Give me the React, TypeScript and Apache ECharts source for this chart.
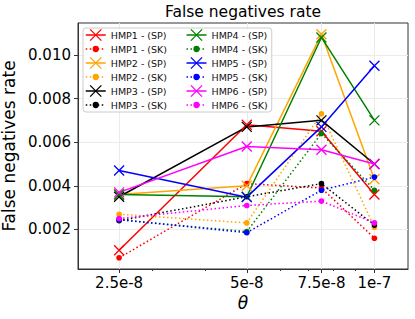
import React, { useEffect, useRef } from 'react';
import * as echarts from 'echarts';

// ---- data ----
const thetas = [2.5e-8, 5e-8, 7.5e-8, 1e-7];
const xTickLabels = ['2.5e-8', '5e-8', '7.5e-8', '1e-7'];
const xMinorTicks = [3e-8, 4e-8, 6e-8, 7e-8, 8e-8, 9e-8];
const xLimits = [2e-8, 1.2e-7];
const yTicks = [0.002, 0.004, 0.006, 0.008, 0.01];

const hmp1SP = [0.00105, 0.0068, 0.0065, 0.0036];
const hmp1SK = [0.0007, 0.0041, 0.0039, 0.0016];
const hmp2SP = [0.0036, 0.004, 0.01095, 0.0043];
const hmp2SK = [0.0027, 0.0023, 0.0073, 0.0021];
const hmp3SP = [0.0035, 0.0067, 0.007, 0.005];
const hmp3SK = [0.0024, 0.0035, 0.0041, 0.0022];
const hmp4SP = [0.0036, 0.0035, 0.0108, 0.007];
const hmp4SK = [0.00245, 0.0019, 0.0064, 0.0038];
const hmp5SP = [0.0047, 0.00348, 0.0067, 0.0095];
const hmp5SK = [0.00245, 0.00185, 0.0038, 0.0044];
const hmp6SP = [0.0037, 0.0058, 0.00565, 0.005];
const hmp6SK = [0.0025, 0.0031, 0.0033, 0.0023];

const seriesNames = [
  'HMP1 - (SP)', 'HMP1 - (SK)', 'HMP2 - (SP)', 'HMP2 - (SK)', 'HMP3 - (SP)', 'HMP3 - (SK)',
  'HMP4 - (SP)', 'HMP4 - (SK)', 'HMP5 - (SP)', 'HMP5 - (SK)', 'HMP6 - (SP)', 'HMP6 - (SK)',
];
const seriesValues = [hmp1SP, hmp1SK, hmp2SP, hmp2SK, hmp3SP, hmp3SK, hmp4SP, hmp4SK, hmp5SP, hmp5SK, hmp6SP, hmp6SK];
const seriesColors = ['#ff0000', '#ffa500', '#000000', '#008000', '#0000ff', '#ff00ff'];

const X_SYMBOL = 'path://M0,0L10,10M10,0L0,10';
const DOT_SYMBOL = 'path://M0,0M10,10M7.8,5A2.8,2.8,0,1,1,2.2,5A2.8,2.8,0,1,1,7.8,5Z';
const FONT = 'DejaVu Sans';

export default function App() {
  const ref = useRef<HTMLDivElement>(null);
  useEffect(() => {
    document.body.style.margin = '0';
    if (!ref.current) return;
    const chart = echarts.init(ref.current, undefined, { renderer: 'svg' });

    const all = seriesValues.flat();
    const dMin = Math.min(...all);
    const dMax = Math.max(...all);
    const pad = (dMax - dMin) * 0.05;

    const lx = (v: number) => Math.log10(v);
    const tickPos = thetas.map(lx);

    const series = seriesNames.map((name, i) => {
      const color = seriesColors[Math.floor(i / 2)];
      const isSP = i % 2 === 0;
      return {
        name,
        type: 'line',
        xAxisIndex: 0,
        data: seriesValues[i].map((v, j) => [lx(thetas[j]), v]),
        symbol: isSP ? X_SYMBOL : DOT_SYMBOL,
        symbolSize: 10,
        showAllSymbol: true,
        lineStyle: { color, width: 1.5, type: isSP ? 'solid' : [1.5, 2.5] },
        itemStyle: { color, borderColor: color, borderWidth: isSP ? 1.3 : 0 },
        emphasis: { disabled: true },
      };
    });

    const legendData = seriesNames.map((name, i) => ({
      name,
      textStyle: i < 6 ? { width: 75 } : {},
    }));

    chart.setOption({
      animation: false,
      backgroundColor: '#ffffff',
      title: {
        text: 'False negatives rate',
        left: 243,
        top: 4,
        padding: 0,
        textAlign: 'center',
        textStyle: { fontFamily: FONT, fontSize: 15.5, fontWeight: 'normal', color: '#000' },
      },
      legend: {
        data: legendData,
        orient: 'vertical',
        left: 83,
        top: 28,
        height: 90,
        padding: [0, 4, 0, 2],
        itemGap: 0,
        itemWidth: 20,
        itemHeight: 14,
        backgroundColor: 'rgba(255,255,255,0.8)',
        borderColor: '#cccccc',
        borderWidth: 1,
        borderRadius: 3,
        textStyle: { fontFamily: FONT, fontSize: 9.5, color: '#111', lineHeight: 14 },
        itemStyle: { borderWidth: 'inherit' },
        lineStyle: { width: 'inherit' },
        selectedMode: false,
      },
      grid: {
        left: 78,
        right: 7,
        top: 23,
        bottom: 50,
        show: true,
        borderColor: '#333',
        borderWidth: 1,
        backgroundColor: '#fff',
        outerBoundsMode: 'none',
      },
      xAxis: [
        {
          type: 'value',
          position: 'bottom',
          min: lx(xLimits[0]),
          max: lx(xLimits[1]),
          name: 'θ',
          nameLocation: 'middle',
          nameGap: 25,
          nameTextStyle: { fontFamily: FONT, fontSize: 17, fontStyle: 'italic', color: '#000' },
          axisLine: { show: true, lineStyle: { color: '#333', width: 1 } },
          axisTick: { show: true, length: 4, customValues: tickPos, lineStyle: { color: '#333' } },
          axisLabel: {
            customValues: tickPos,
            margin: 6,
            fontFamily: FONT,
            fontSize: 15,
            color: '#000',
            formatter: (v: number) => {
              let best = 0;
              tickPos.forEach((p, k) => { if (Math.abs(p - v) < Math.abs(tickPos[best] - v)) best = k; });
              return xTickLabels[best];
            },
          },
          splitLine: { show: true, lineStyle: { color: '#ebebeb', width: 1 } },
        },
        {
          type: 'value',
          position: 'bottom',
          min: lx(xLimits[0]),
          max: lx(xLimits[1]),
          axisLine: { show: false },
          axisTick: { show: true, length: 2, customValues: xMinorTicks.map(lx), lineStyle: { color: '#333' } },
          axisLabel: { show: false },
          splitLine: { show: false },
        },
      ],
      yAxis: {
        type: 'value',
        min: dMin - pad,
        max: dMax + pad,
        name: 'False negatives rate',
        nameLocation: 'middle',
        nameGap: 53,
        nameTextStyle: { fontFamily: FONT, fontSize: 17, color: '#000' },
        axisLine: { show: true, lineStyle: { color: '#333', width: 1 } },
        axisTick: { show: true, length: 4, customValues: yTicks, lineStyle: { color: '#333' } },
        axisLabel: {
          customValues: yTicks,
          margin: 7,
          fontFamily: FONT,
          fontSize: 15,
          color: '#000',
          formatter: (v: number) => v.toFixed(3),
        },
        splitLine: { show: true, lineStyle: { color: '#ebebeb', width: 1 } },
      },
      series,
    });
    return () => chart.dispose();
  }, []);
  return <div ref={ref} style={{ position: 'fixed', left: 0, top: 0, width: 415, height: 319 }} />;
}
